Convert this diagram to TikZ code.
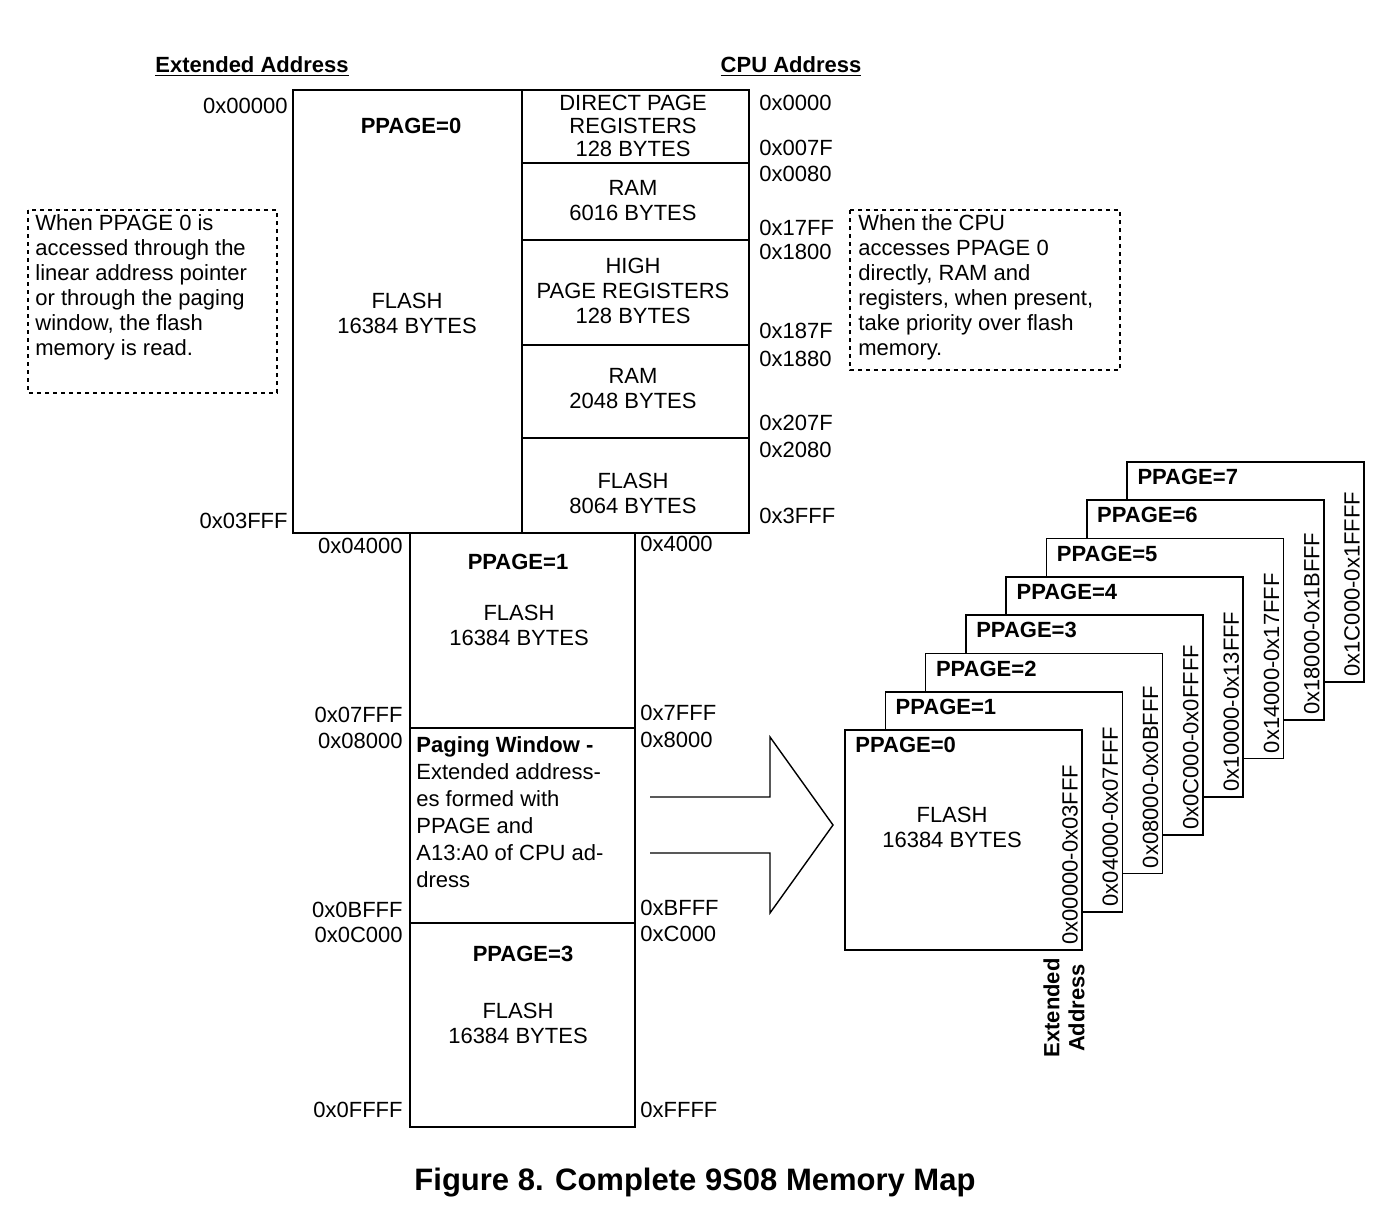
\documentclass[tikz,border=0pt]{standalone}
\usepackage{fontspec}
\setmainfont{Liberation Sans}
\usetikzlibrary{positioning}

\begin{document}
\begin{tikzpicture}[x=0.5pt,y=0.5pt,yscale=-1,xscale=1,
    every node/.style={font=\fontsize{11}{12.5}\selectfont},
    box/.style={draw,line width=0.8pt,fill=white},
    note/.style={draw,dash pattern={on 2pt off 2pt},line width=0.7pt},
    addrL/.style={anchor=east,inner sep=1pt},
    addrR/.style={anchor=west,inner sep=1pt},
    lbl/.style={align=center,inner sep=0pt},
    hdr/.style={font=\fontsize{11}{12.5}\selectfont\bfseries}]
    \useasboundingbox (0,0) rectangle (1390,1220);

    % headings
    \node[hdr] (hExt) at (252,67) {\underline{Extended Address}};
    \node[hdr] (hCpu) at (791,67) {\underline{CPU Address}};

    % PPAGE 0 block
    \draw[box] (293,90) rectangle (522,533);
    \node[hdr] (p0) at (411,126) {PPAGE=0};
    \node[lbl] (p0f) at (407,313) {FLASH\\16384 BYTES};
    \draw[box] (522,90) rectangle (749,163);
    \draw[box] (522,163) rectangle (749,240);
    \draw[box] (522,240) rectangle (749,345);
    \draw[box] (522,345) rectangle (749,438);
    \draw[box] (522,438) rectangle (749,533);
    \node[lbl,font=\fontsize{11}{11.5}\selectfont] (dpr) at (633,126) {DIRECT PAGE\\REGISTERS\\128 BYTES};
    \node[lbl] (ram1) at (633,201) {RAM\\6016 BYTES};
    \node[lbl] (hpr) at (633,291) {HIGH\\PAGE REGISTERS\\128 BYTES};
    \node[lbl] (ram2) at (633,389) {RAM\\2048 BYTES};
    \node[lbl] (fl8k) at (633,493) {FLASH\\8064 BYTES};

    % PPAGE 1 / window / PPAGE 3
    \draw[box] (410,533) rectangle (635,728);
    \draw[box] (410,728) rectangle (635,923);
    \draw[box] (410,923) rectangle (635,1127);
    \node[hdr] (p1) at (518,562) {PPAGE=1};
    \node[lbl] (p1f) at (519,625) {FLASH\\16384 BYTES};
    \node[anchor=north west,align=left,inner sep=0pt,font=\fontsize{11}{13.5}\selectfont] (win) at (416,736)
        {\textbf{Paging Window -}\\Extended address-\\es formed with\\PPAGE and\\A13:A0 of CPU ad-\\dress};
    \node[hdr] (p3) at (523,954) {PPAGE=3};
    \node[lbl] (p3f) at (518,1023) {FLASH\\16384 BYTES};

    % extended addresses
    \node[addrL] (e0) at (290,106) {0x00000};
    \node[addrL] (e1) at (290,521) {0x03FFF};
    \node[addrL] (e2) at (405,546) {0x04000};
    \node[addrL] (e3) at (405,715) {0x07FFF};
    \node[addrL] (e4) at (405,741) {0x08000};
    \node[addrL] (e5) at (405,910) {0x0BFFF};
    \node[addrL] (e6) at (405,935) {0x0C000};
    \node[addrL] (e7) at (405,1110) {0x0FFFF};

    % CPU addresses
    \foreach \a/\y in {0x0000/103,0x007F/148,0x0080/174,0x17FF/228,0x1800/252,
        0x187F/331,0x1880/359,0x207F/423,0x2080/450,0x3FFF/516}
        \node[addrR] (c\y) at (757,\y) {\a};
    \foreach \a/\y in {0x4000/544,0x7FFF/713,0x8000/740,0xBFFF/908,0xC000/934,0xFFFF/1110}
        \node[addrR] (d\y) at (638,\y) {\a};

    % notes
    \draw[note] (28,210) rectangle (277,393);
    \node[anchor=north west,align=left,inner sep=0pt] (nL) at (35,214)
        {When PPAGE 0 is\\accessed through the\\linear address pointer\\or through the paging\\window, the flash\\memory is read.};
    \draw[note] (850,210) rectangle (1120,370);
    \node[anchor=north west,align=left,inner sep=0pt] (nR) at (858,214)
        {When the CPU\\accesses PPAGE 0\\directly, RAM and\\registers, when present,\\take priority over flash\\memory.};

    % big arrow
    \draw[line width=0.7pt] (650,797) -- (770,797) -- (770,737) -- (833,825)
        -- (770,913) -- (770,853) -- (650,853);

    % stacked pages
    \foreach \k/\r in {7/0x1C000-0x1FFFF,6/0x18000-0x1BFFF,5/0x14000-0x17FFF,
        4/0x10000-0x13FFF,3/0x0C000-0x0FFFF,2/0x08000-0x0BFFF,
        1/0x04000-0x07FFF,0/0x00000-0x03FFF}{
        \draw[box] ({845+40.3*\k},{730-38.3*\k}) rectangle ++(237,220);
        \node[hdr,anchor=north west,inner sep=0pt] (pg\k) at ({855+40.3*\k},{737-38.3*\k}) {PPAGE=\k};
        \node[rotate=90,anchor=west,inner sep=0pt] (rg\k) at ({1070+40.3*\k},{945-38.3*\k}) {\r};
    }
    \node[lbl] (pgf) at (952,827) {FLASH\\16384 BYTES};
    \node[hdr,rotate=90,align=center,anchor=east,inner sep=0pt] (extA) at (1064,958) {Extended\\Address};

    % caption
    \node[font=\fontsize{15.5}{17}\selectfont\bfseries] (cap) at (695,1183) {Figure 8. Complete 9S08 Memory Map};
\end{tikzpicture}
\end{document}
